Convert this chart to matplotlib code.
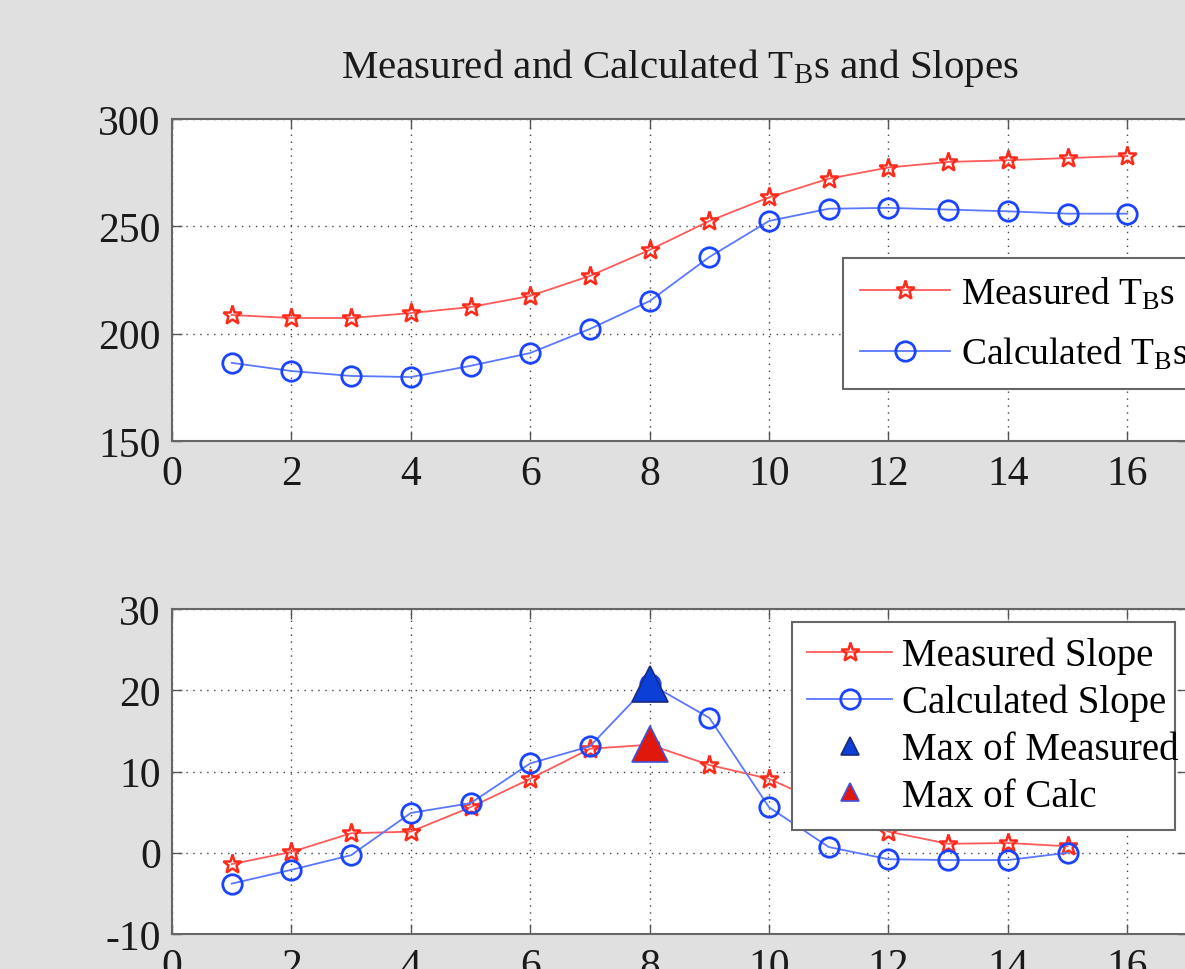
import matplotlib
matplotlib.use("Agg")
import matplotlib.pyplot as plt

# sample index
x = list(range(1, 17))
meas_tb = [208.7, 207.3, 207.3, 209.6, 212.4, 217.6, 226.9, 239.0,
           252.5, 263.5, 272.2, 277.4, 280.0, 280.8, 281.8, 282.8]
calc_tb = [186.4, 182.6, 180.3, 179.8, 185.0, 191.0, 202.2, 215.2,
           235.7, 252.5, 258.2, 258.6, 257.8, 257.0, 255.9, 255.9]

xs = list(range(1, 16))
meas_slope = [-1.4, 0.1, 2.4, 2.6, 5.6, 9.1, 12.8, 13.3, 10.8, 9.1,
              5.8, 2.6, 1.1, 1.2, 0.8]
calc_slope = [-3.8, -2.1, -0.3, 4.9, 6.1, 11.0, 13.1, 20.8, 16.6, 5.6,
              0.7, -0.8, -0.9, -0.9, 0.0]
max_x = 8
max_meas = 20.8
max_calc = 13.4

plt.rcParams['font.family'] = ['Liberation Serif', 'DejaVu Serif']
plt.rcParams['mathtext.fontset'] = 'custom'
plt.rcParams['mathtext.rm'] = 'Liberation Serif'
plt.rcParams['mathtext.it'] = 'Liberation Serif:italic'
plt.rcParams['axes.unicode_minus'] = False

BG = '#e0e0e0'
RED_L = '#ff5a5a'; RED_M = '#ff2a1a'
BLUE_L = '#5a78ff'; BLUE_M = '#1a44ff'

fig = plt.figure(figsize=(11.85, 9.70), dpi=100, facecolor=BG)
W = 1015 / 1185
ax1 = fig.add_axes([172 / 1185, 528 / 970, W, 322 / 970])
ax2 = fig.add_axes([172 / 1185, 35 / 970, W, 325 / 970])

def style(ax):
    ax.set_xlim(0, 17)
    ax.set_xticks(range(0, 17, 2))
    ax.grid(True, linestyle=(0, (1, 4)), color='#444444', linewidth=1.0)
    ax.tick_params(direction='in', length=7, width=1, colors='#555555',
                   labelcolor='#1a1a1a', labelsize=30, top=True, right=True)
    ax.tick_params(axis='x', pad=10)
    ax.tick_params(axis='y', pad=8)
    for s in ax.spines.values():
        s.set_color('#666666'); s.set_linewidth(1.5)

ax1.plot(x, meas_tb, color=RED_L, lw=1.3, marker='*', ms=14, mfc='none',
         mec=RED_M, mew=1.8, label=r'Measured T$_\mathrm{B}$s')
ax1.plot(x, calc_tb, color=BLUE_L, lw=1.3, marker='o', ms=14, mfc='none',
         mec=BLUE_M, mew=2, label=r'Calculated T$_\mathrm{B}$s')
ax1.set_ylim(150, 300)
ax1.set_yticks([150, 200, 250, 300])
style(ax1)
ax1.set_title(r'Measured and Calculated T$_\mathrm{B}$s and Slopes',
              fontsize=29.5, pad=30, color='#1a1a1a')
leg1 = ax1.legend(loc='upper left', bbox_to_anchor=(0.661, 0.568), fontsize=27,
                  frameon=True, fancybox=False, edgecolor='#666666', framealpha=1,
                  borderaxespad=0, handlelength=2.4, labelspacing=0.64,
                  borderpad=0.45, handletextpad=0.3)
leg1.get_frame().set_linewidth(1.5)

ax2.plot(xs, meas_slope, color=RED_L, lw=1.3, marker='*', ms=14, mfc='none',
         mec=RED_M, mew=1.8, label='Measured Slope')
ax2.plot(xs, calc_slope, color=BLUE_L, lw=1.3, marker='o', ms=14, mfc='none',
         mec=BLUE_M, mew=2, label='Calculated Slope')
ax2.plot([max_x], [max_meas], linestyle='none', marker='^', ms=26,
         mfc='#0c3fd6', mec='#1a2a80', mew=1.2, label='Max of Measured')
ax2.plot([max_x], [max_calc], linestyle='none', marker='^', ms=26,
         mfc='#e0180c', mec='#4050e0', mew=1.2, label='Max of Calc')
ax2.set_ylim(-10, 30)
ax2.set_yticks([-10, 0, 10, 20, 30])
style(ax2)
leg2 = ax2.legend(loc='upper left', bbox_to_anchor=(0.6108, 0.96, 0.3773, 0),
                  mode='expand', fontsize=28,
                  frameon=True, fancybox=False, edgecolor='#666666', framealpha=1,
                  borderaxespad=0, handlelength=2.2, labelspacing=0.25,
                  borderpad=0.38, handletextpad=0.25)
leg2.get_frame().set_linewidth(1.5)
for h, s in zip(leg2.legend_handles, [14, 14, 13, 13]):
    h.set_markersize(s)

fig.savefig('out.png', dpi=100, facecolor=BG)
